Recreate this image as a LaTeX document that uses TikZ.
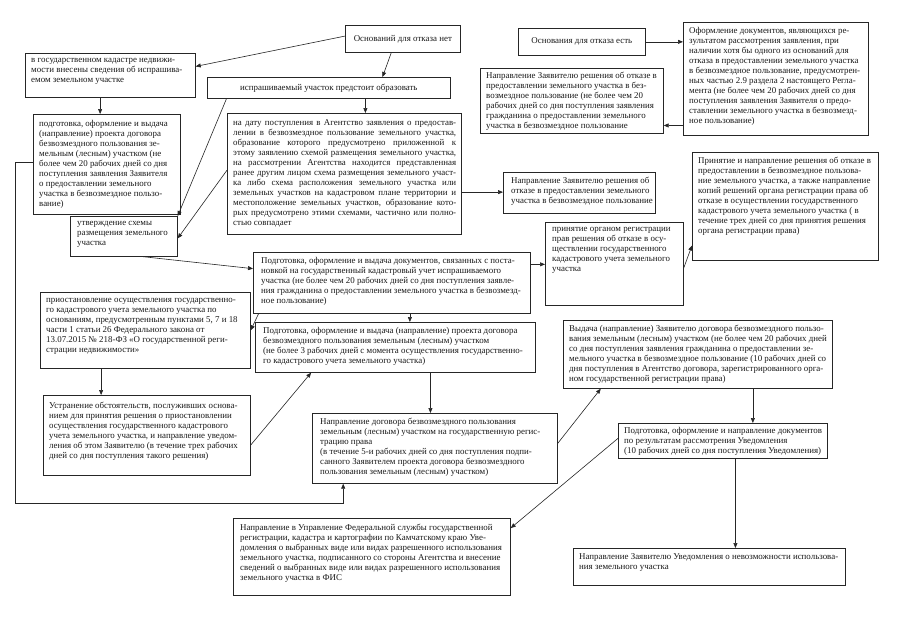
\documentclass[tikz,border=0pt]{standalone}
\usepackage{fontspec}
\setmainfont{Liberation Serif}
\usetikzlibrary{arrows.meta,calc}
\newcommand{\fs}{\fontsize{8.9}{10}\selectfont}
\newcommand{\jl}[1]{\makebox[223pt][s]{#1}}
\tikzset{
  box/.style={draw=black!85, line width=0.7pt, inner sep=0pt, anchor=north west, font=\fs, text=black!90},
  txt/.style={anchor=north west, align=left, inner sep=0pt, font=\fs, text=black!90},
  arr/.style={-{Triangle[length=5pt,width=4pt]}, line width=0.6pt, draw=black!85},
}
\begin{document}
\begin{tikzpicture}[x=1pt,y=-1pt]
\useasboundingbox[fill=white] (0,0) rectangle (905,640);

% boxes
\node[box, minimum width=115pt, minimum height=27pt] (A) at (345,25) {Оснований для отказа нет};
\node[box, minimum width=127pt, minimum height=27pt] (B) at (518,28) {Основания для отказа есть};
\node[box, minimum width=185pt, minimum height=113pt] (C) at (683,22) {};
\node[box, minimum width=183pt, minimum height=65pt] (D) at (480,68) {};
\node[box, minimum width=170pt, minimum height=44pt] (E) at (25,53) {};
\node[box, minimum width=243pt, minimum height=21pt] (F) at (207,77) {испрашиваемый участок предстоит образовать};
\node[box, minimum width=147pt, minimum height=100pt] (G) at (33,114) {};
\node[box, minimum width=107pt, minimum height=40pt] (H) at (70,216) {};
\node[box, minimum width=234pt, minimum height=121pt] (I) at (227,113) {};
\node[box, minimum width=152pt, minimum height=41pt] (J) at (503,172) {};
\node[box, minimum width=186pt, minimum height=108pt] (K) at (692,152) {};
\node[box, minimum width=138pt, minimum height=83pt] (L) at (545,222) {};
\node[box, minimum width=277pt, minimum height=61pt] (M) at (253,252) {};
\node[box, minimum width=210pt, minimum height=76pt] (N) at (40,292) {};
\node[box, minimum width=280pt, minimum height=50pt] (P) at (255,322) {};
\node[box, minimum width=207pt, minimum height=80pt] (O) at (43,395) {};
\node[box, minimum width=245pt, minimum height=70pt] (Q) at (312,413) {};
\node[box, minimum width=269pt, minimum height=68pt] (R) at (563,320) {};
\node[box, minimum width=209pt, minimum height=35pt] (S) at (618,423) {};
\node[box, minimum width=277pt, minimum height=77pt] (U) at (233,518) {};
\node[box, minimum width=272pt, minimum height=37pt] (T) at (573,548) {};

% texts
\node[txt] (Ct) at ($(C.north west)+(6,5)$) {Оформление документов, являющихся ре-\\зультатом рассмотрения заявления, при\\наличии хотя бы одного из оснований для\\отказа в предоставлении земельного участка\\в безвозмездное пользование, предусмотрен-\\ных частью 2.9 раздела 2 настоящего Регла-\\мента (не более чем 20 рабочих дней  со дня\\поступления заявления Заявителя о предо-\\ставлении земельного участка в безвозмезд-\\ное пользование)};
\node[txt] (Dt) at ($(D.north west)+(6,4)$) {Направление Заявителю решения об отказе в\\предоставлении земельного участка в без-\\возмездное пользование (не более чем 20\\рабочих дней  со дня поступления заявления\\гражданина о предоставлении земельного\\участка в безвозмездное пользование};
\node[txt] (Et) at ($(E.north west)+(6,5)$) {в государственном кадастре недвижи-\\мости внесены сведения об испрашива-\\емом земельном участке};
\node[txt] (Gt) at ($(G.north west)+(6,6)$) {подготовка, оформление и выдача\\(направление) проекта договора\\безвозмездного пользования зе-\\мельным (лесным) участком (не\\более чем 20 рабочих дней  со дня\\поступления заявления Заявителя\\о предоставлении земельного\\участка в безвозмездное пользо-\\вание)};
\node[txt] (Ht) at ($(H.north west)+(7,5)$) {утверждение схемы\\размещения земельного\\участка};
\node[txt] (It) at ($(I.north west)+(6,6)$) {\jl{на дату поступления в Агентство заявления о предостав-}\\\jl{лении в безвозмездное пользование земельного участка,}\\\jl{образование которого предусмотрено приложенной к}\\\jl{этому заявлению схемой размещения земельного участка,}\\\jl{на рассмотрении Агентства находится представленная}\\\jl{ранее другим лицом схема размещения земельного участ-}\\\jl{ка либо схема расположения земельного участка или}\\\jl{земельных участков на кадастровом плане территории и}\\\jl{местоположение земельных участков, образование кото-}\\\jl{рых предусмотрено этими схемами, частично или полно-}\\стью совпадает};
\node[txt] (Jt) at ($(J.north west)+(8,5)$) {Направление Заявителю решения об\\отказе в предоставлении земельного\\участка в безвозмездное пользование};
\node[txt] (Kt) at ($(K.north west)+(6,5)$) {Принятие и направление решения об отказе в\\предоставлении в безвозмездное пользова-\\ние земельного участка, а также направление\\копий решений органа регистрации права об\\отказе в осуществлении государственного\\кадастрового учета земельного участка ( в\\течение трех дней со дня принятия решения\\органа регистрации права)};
\node[txt] (Lt) at ($(L.north west)+(7,5)$) {принятие органом регистрации\\прав решения об отказе в осу-\\ществлении государственного\\кадастрового учета земельного\\участка};
\node[txt] (Mt) at ($(M.north west)+(8,5)$) {Подготовка, оформление и выдача документов, связанных с поста-\\новкой  на государственный кадастровый учет испрашиваемого\\участка  (не более чем 20 рабочих дней  со дня поступления заявле-\\ния гражданина о предоставлении земельного участка в безвозмезд-\\ное пользование)};
\node[txt] (Nt) at ($(N.north west)+(6,6)$) {приостановление осуществления государственно-\\го кадастрового учета земельного участка по\\основаниям, предусмотренным пунктами 5, 7 и 18\\части 1 статьи 26 Федерального закона от\\13.07.2015 № 218-ФЗ  «О государственной реги-\\страции недвижимости»};
\node[txt] (Pt) at ($(P.north west)+(8,5)$) {Подготовка, оформление и выдача (направление) проекта договора\\безвозмездного пользования земельным (лесным) участком\\(не более 3 рабочих дней с момента осуществления государственно-\\го кадастрового учета земельного участка)};
\node[txt] (Ot) at ($(O.north west)+(6,7)$) {Устранение обстоятельств, послуживших основа-\\нием для принятия решения о приостановлении\\осуществления государственного кадастрового\\учета земельного участка, и направление уведом-\\ления об этом Заявителю (в течение трех рабочих\\дней со дня поступления такого решения)};
\node[txt] (Qt) at ($(Q.north west)+(8,5)$) {Направление договора безвозмездного пользования\\земельным (лесным) участком на государственную регис-\\трацию права\\(в течение 5-и рабочих дней со дня поступления подпи-\\санного Заявителем проекта договора безвозмездного\\пользования земельным (лесным) участком)};
\node[txt] (Rt) at ($(R.north west)+(6,5)$) {Выдача (направление) Заявителю договора безвозмездного пользо-\\вания земельным (лесным) участком (не более чем 20 рабочих дней\\со дня поступления заявления гражданина о предоставлении зе-\\мельного участка в безвозмездное пользование (10 рабочих дней со\\дня поступления в Агентство договора, зарегистрированного орга-\\ном государственной регистрации права)};
\node[txt] (St) at ($(S.north west)+(6,4)$) {Подготовка, оформление и направление документов\\по результатам рассмотрения Уведомления\\(10 рабочих дней со дня поступления Уведомления)};
\node[txt] (Ut) at ($(U.north west)+(7,6)$) {Направление в Управление Федеральной службы государственной\\регистрации, кадастра и картографии по Камчатскому краю Уве-\\домления о выбранных виде или видах разрешенного использования\\земельного участка, подписанного со стороны Агентства и внесение\\сведений о выбранных виде или видах разрешенного использования\\земельного участка в ФИС};
\node[txt] (Tt) at ($(T.north west)+(6,5)$) {Направление Заявителю Уведомления о невозможности использова-\\ния земельного участка};

% connectors
\draw[arr] ($(A.north west)!0.4!(A.south west)$) -- ($(E.north east)!0.3!(E.south east)$);
\draw[arr] ($(A.south west)!0.4!(A.south east)$) -- ($(F.north west)!0.72!(F.north east)$);
\draw[arr] (B.east) -- (B.east -| C.west);
\draw[arr] ($(C.north west)!0.91!(C.south west)$) coordinate (c1) -- (c1 -| D.east);
\draw[arr] ($(E.south west)!0.44!(E.south east)$) coordinate (e1) -- (e1 |- G.north);
\draw[arr] ($(F.south west)!0.08!(F.south east)$) -- (H.north east);
\draw[arr] ($(I.north west)!0.47!(I.south west)$) -- ($(H.north east)!0.55!(H.south east)$);
\draw[arr] ($(F.south west)!0.65!(F.south east)$) coordinate (f1) -- (f1 |- I.north);
\draw[arr] ($(I.north east)!0.65!(I.south east)$) coordinate (i1) -- (i1 -| J.west);
\draw[arr] ($(H.south west)!0.68!(H.south east)$) -- ($(M.north west)!0.27!(M.south west)$);
\draw[arr] ($(M.north east)!0.2!(M.south east)$) coordinate (m1) -- (m1 -| L.west);
\draw[arr] ($(L.north east)!0.55!(L.south east)$) -- ($(K.north west)!0.86!(K.south west)$);
\draw[arr] ($(M.south west)!0.02!(M.south east)$) -- ($(N.north east)!0.5!(N.south east)$);
\draw[arr] ($(M.south west)!0.565!(M.south east)$) coordinate (m2) -- (m2 |- P.north);
\draw[arr] ($(N.south west)!0.29!(N.south east)$) coordinate (n1) -- (n1 |- O.north);
\draw[arr] ($(O.north east)!0.62!(O.south east)$) -- ($(P.south west)!0.2!(P.south east)$);
\draw[arr] ($(P.south west)!0.625!(P.south east)$) coordinate (p1) -- (p1 |- Q.north);
\coordinate (q0) at ($(Q.south west)!0.127!(Q.south east)$);
\draw[arr] ($(G.north west)!0.48!(G.south west)$) -- ++(-18,0) |- ($(q0)+(0,20)$) -- (q0);
\draw[arr] ($(Q.north east)!0.43!(Q.south east)$) -- ($(R.south west)!0.14!(R.south east)$);
\draw[arr] ($(R.south west)!0.704!(R.south east)$) coordinate (r1) -- (r1 |- S.north);
\draw[arr] ($(S.north west)!0.43!(S.south west)$) -- ($(U.north east)!0.13!(U.south east)$);
\draw[arr] ($(S.south west)!0.56!(S.south east)$) coordinate (s1) -- (s1 |- T.north);
\end{tikzpicture}
\end{document}
